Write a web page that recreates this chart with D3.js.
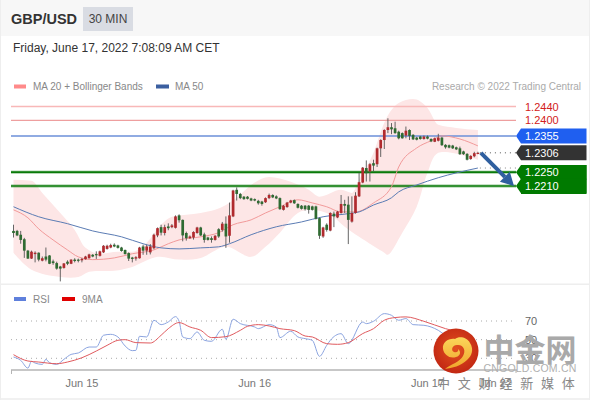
<!DOCTYPE html>
<html><head><meta charset="utf-8">
<script src="https://cdn.jsdelivr.net/npm/d3@7/dist/d3.min.js"></script>
<style>html,body{margin:0;padding:0;background:#fff}svg{display:block;font-family:"Liberation Sans",Arial,sans-serif}</style>
</head><body><svg id="c" width="590" height="400"></svg>
<script>
const opens=[1.2080,1.2080,1.2069,1.2056,1.2023,1.2000,1.2013,1.2017,1.1994,1.2006,1.2009,1.1992,1.1987,1.1977,1.1973,1.1991,1.1985,1.1997,1.1997,1.1995,1.1998,1.2001,1.2011,1.2013,1.2008,1.2018,1.2028,1.2032,1.2040,1.2038,1.2032,1.2025,1.2016,1.2003,1.2000,1.2001,1.2035,1.2023,1.2018,1.2030,1.2067,1.2091,1.2074,1.2093,1.2091,1.2089,1.2125,1.2112,1.2074,1.2059,1.2061,1.2074,1.2090,1.2070,1.2061,1.2059,1.2054,1.2085,1.2083,1.2101,1.2066,1.2122,1.2199,1.2187,1.2179,1.2179,1.2174,1.2172,1.2167,1.2165,1.2163,1.2175,1.2184,1.2180,1.2175,1.2141,1.2149,1.2162,1.2169,1.2158,1.2153,1.2153,1.2153,1.2151,1.2151,1.2117,1.2064,1.2098,1.2081,1.2130,1.2119,1.2132,1.2158,1.2156,1.2107,1.2132,1.2180,1.2220,1.2262,1.2252,1.2276,1.2273,1.2319,1.2343,1.2372,1.2380,1.2377,1.2367,1.2363,1.2356,1.2372,1.2358,1.2350,1.2353,1.2346,1.2353,1.2346,1.2338,1.2341,1.2350,1.2329,1.2328,1.2327,1.2322,1.2319,1.2310,1.2303,1.2288,1.2296,1.2303];
const closes=[1.2074,1.2067,1.2054,1.2023,1.2000,1.2020,1.2017,1.1997,1.2001,1.1997,1.1985,1.1987,1.1971,1.1971,1.1986,1.1985,1.1997,1.1993,1.1994,1.1999,1.2006,1.2012,1.2006,1.2010,1.2021,1.2037,1.2037,1.2039,1.2035,1.2031,1.2022,1.2013,1.2000,1.1999,1.2004,1.2032,1.2023,1.2035,1.2035,1.2069,1.2088,1.2075,1.2091,1.2088,1.2096,1.2122,1.2111,1.2067,1.2059,1.2064,1.2077,1.2090,1.2067,1.2054,1.2054,1.2054,1.2066,1.2064,1.2101,1.2064,1.2125,1.2197,1.2187,1.2175,1.2172,1.2173,1.2168,1.2168,1.2160,1.2158,1.2175,1.2184,1.2177,1.2174,1.2143,1.2153,1.2162,1.2168,1.2160,1.2147,1.2144,1.2143,1.2141,1.2141,1.2115,1.2066,1.2090,1.2083,1.2132,1.2122,1.2136,1.2158,1.2153,1.2112,1.2132,1.2182,1.2221,1.2263,1.2247,1.2273,1.2269,1.2319,1.2343,1.2372,1.2380,1.2374,1.2363,1.2348,1.2348,1.2370,1.2355,1.2345,1.2344,1.2346,1.2353,1.2347,1.2339,1.2348,1.2350,1.2328,1.2322,1.2321,1.2319,1.2316,1.2302,1.2302,1.2286,1.2297,1.2305,1.2306];
const highs=[1.2098,1.2083,1.2080,1.2060,1.2025,1.2023,1.2021,1.2018,1.2006,1.2032,1.2010,1.1997,1.1991,1.1979,1.1987,1.1995,1.1998,1.2001,1.2000,1.2002,1.2008,1.2014,1.2013,1.2021,1.2023,1.2039,1.2040,1.2043,1.2044,1.2040,1.2034,1.2026,1.2018,1.2005,1.2007,1.2034,1.2040,1.2040,1.2042,1.2072,1.2090,1.2098,1.2098,1.2102,1.2100,1.2125,1.2128,1.2113,1.2078,1.2067,1.2079,1.2092,1.2092,1.2075,1.2063,1.2064,1.2068,1.2088,1.2106,1.2122,1.2162,1.2199,1.2206,1.2190,1.2181,1.2181,1.2176,1.2174,1.2170,1.2167,1.2177,1.2188,1.2186,1.2183,1.2177,1.2155,1.2164,1.2170,1.2171,1.2160,1.2155,1.2155,1.2155,1.2153,1.2153,1.2119,1.2092,1.2102,1.2134,1.2136,1.2138,1.2184,1.2170,1.2180,1.2180,1.2192,1.2248,1.2265,1.2284,1.2276,1.2286,1.2321,1.2345,1.2374,1.2406,1.2392,1.2396,1.2370,1.2365,1.2382,1.2374,1.2360,1.2352,1.2355,1.2356,1.2356,1.2348,1.2350,1.2361,1.2352,1.2331,1.2330,1.2329,1.2324,1.2324,1.2312,1.2305,1.2299,1.2309,1.2309];
const lows=[1.2061,1.2065,1.2043,1.2002,1.1999,1.1999,1.1989,1.1992,1.1992,1.1992,1.1984,1.1982,1.1968,1.1934,1.1971,1.1981,1.1984,1.1989,1.1989,1.1989,1.1997,1.2000,1.2004,1.1999,1.2006,1.2016,1.2026,1.2030,1.2033,1.2029,1.2020,1.2012,1.1993,1.1989,1.1994,1.2000,1.2011,1.2011,1.2012,1.2027,1.2062,1.2067,1.2067,1.2082,1.2088,1.2087,1.2104,1.2050,1.2052,1.2057,1.2055,1.2072,1.2065,1.2046,1.2052,1.2046,1.2052,1.2060,1.2078,1.2031,1.2046,1.2120,1.2168,1.2172,1.2170,1.2171,1.2166,1.2166,1.2156,1.2153,1.2161,1.2172,1.2175,1.2172,1.2141,1.2139,1.2147,1.2160,1.2158,1.2145,1.2142,1.2139,1.2130,1.2139,1.2113,1.2057,1.2060,1.2078,1.2079,1.2091,1.2117,1.2130,1.2132,1.2042,1.2104,1.2130,1.2178,1.2218,1.2223,1.2223,1.2252,1.2265,1.2294,1.2317,1.2363,1.2360,1.2361,1.2345,1.2347,1.2348,1.2343,1.2343,1.2342,1.2344,1.2344,1.2345,1.2337,1.2337,1.2339,1.2326,1.2318,1.2319,1.2317,1.2314,1.2300,1.2300,1.2284,1.2286,1.2293,1.2302];

const ma20Idx=[0,4,7,11,15,18,22,28,33,39,43,46,52,57,61,66,70,74,79,83,87,91,95,100,105,107,112,116,119,124,129];
const ma20=[1.2141,1.2118,1.2086,1.2054,1.2025,1.2005,1.1997,1.2002,1.2014,1.2025,1.2043,1.2054,1.2063,1.2075,1.2098,1.2112,1.2132,1.2150,1.2170,1.2161,1.2150,1.2135,1.2135,1.2161,1.2208,1.2265,1.2320,1.2341,1.2355,1.2346,1.2326];
const ma50Idx=[0,7,15,22,30,36,41,46,52,57,60,66,73,80,86,93,96,100,105,107,112,118,123,129];
const ma50=[1.2150,1.2121,1.2101,1.2080,1.2063,1.2043,1.2031,1.2028,1.2031,1.2034,1.2043,1.2069,1.2092,1.2106,1.2121,1.2130,1.2135,1.2155,1.2176,1.2193,1.2213,1.2234,1.2248,1.2262];
const upperIdx=[0,5,8,13,17,20,24,29,33,37,41,44,52,56,62,66,71,77,82,85,91,94,96,100,103,107,111,115,118,123,129];
const upper=[1.2228,1.2225,1.2190,1.2132,1.2083,1.2031,1.2014,1.2020,1.2020,1.2046,1.2098,1.2121,1.2132,1.2141,1.2176,1.2213,1.2236,1.2222,1.2199,1.2179,1.2199,1.2190,1.2228,1.2306,1.2393,1.2450,1.2462,1.2436,1.2387,1.2378,1.2372];
const lowerIdx=[0,5,13,18,21,28,33,40,46,52,59,66,70,74,79,83,88,92,96,103,104,108,112,115,118,129];
const lower=[1.2017,1.1968,1.1947,1.1947,1.1962,1.1965,1.1976,1.2005,1.1997,1.2002,1.2034,1.2005,1.2034,1.2075,1.2132,1.2141,1.2127,1.2092,1.2063,1.2017,1.2011,1.2075,1.2150,1.2248,1.2306,1.2286];

const rsiIdx=[0,2,4,5,6,8,9,10,12,14,16,18,21,23,25,27,29,31,33,34,35,37,39,41,43,45,46,47,49,51,53,55,58,59,61,63,67,68,71,73,74,77,79,81,83,85,87,88,91,93,97,98,100,103,105,107,109,111,114,118,120,124];
const rsi=[31.4,27.8,19.5,26.7,24.9,23.5,28.9,25.3,23.5,28.9,34.2,35.7,42.1,42.1,54.7,55.7,52.9,43.2,38.2,38.5,53.6,52.9,70.8,66.1,69,74.7,69.7,52.9,51.1,58.2,49.3,48.2,61.1,50.4,71.9,67.2,63.6,61.8,66.1,63.6,52.2,59,52.9,51.1,49.3,32.1,43.9,49.3,56.4,45.7,68.9,67.2,69.7,77.9,76.1,70.8,72.6,66.1,65.4,60,54.7,50];
const maRsiIdx=[0,4,7,12,15,19,23,26,29,31,34,38,41,43,46,49,52,55,59,63,65,68,71,74,78,81,83,87,90,93,97,100,103,106,109,114,120,125];
const maRsi=[33.9,27.1,26,24.2,26,30.6,37.8,43.9,49.3,50,46.8,46.4,54.7,61.8,68.3,63.6,60,52.2,53.2,60,64.3,66.1,64.7,61.8,59.7,53.9,52.9,45.7,45,46.8,56.5,61.8,70.8,73.7,74.4,69.7,61.8,57];

const topRefs=[1.2440,1.2400];
const blueRef=1.2355, lastPrice=1.2306, maEnd=1.2262;
const greenRefs=[1.2250,1.2210];
const rsiLevels=[70,50,30];
const dayIdx=[19,67,115];
const dayLabels=["Jun 15","Jun 16","Jun 17"];
const extraLabel="Jun 22";
const wmChars=["中","文","财","经","新","媒","体"];

const svg=d3.select("#c");
const x=d3.scaleLinear().domain([0,129]).range([13.5,477.9]);
const y=d3.scaleLinear().domain([1.2440,1.2210]).range([106.5,186]);
const r=d3.scaleLinear().domain([70,30]).range([321,358.3]);
const fmt=d3.format(".4f");
const T=(s,px,py,o={})=>svg.append("text").text(s).attr("x",px).attr("y",py)
  .attr("font-size",o.size||10).attr("fill",o.fill||"#888").attr("font-weight",o.weight||null)
  .attr("text-anchor",o.anchor||"start").attr("dominant-baseline","central").attr("font-family",o.family||null);

// frame
svg.append("rect").attr("width",590).attr("height",36).attr("fill","#f7f7f7");
svg.append("rect").attr("y",398).attr("width",590).attr("height",2).attr("fill","#f1f1f1");
svg.append("rect").attr("y",283.5).attr("width",590).attr("height",1.5).attr("fill","#eeeeee");
svg.append("rect").attr("width",1).attr("height",400).attr("fill","#eeeeee");
svg.append("rect").attr("x",589).attr("width",1).attr("height",400).attr("fill","#eeeeee");

// header
T("GBP/USD",11,19,{size:14.5,weight:"bold",fill:"#333"});
svg.append("rect").attr("x",83).attr("y",7).attr("width",50).attr("height",24).attr("fill","#d9dce3");
T("30 MIN",108,19,{size:12,fill:"#444",anchor:"middle"});
T("Friday, June 17, 2022 7:08:09 AM CET",13,48,{size:12,fill:"#333"});

// legend
svg.append("rect").attr("x",14).attr("y",84.5).attr("width",12).attr("height",4).attr("fill","#ff8a8a");
T("MA 20 + Bollinger Bands",33,86.5,{fill:"#888"});
svg.append("rect").attr("x",156).attr("y",84.5).attr("width",13).attr("height",4).attr("fill","#3b5fa0");
T("MA 50",175,86.5,{fill:"#888"});
T("Research © 2022 Trading Central",581,86.5,{fill:"#aaa",anchor:"end"});

// Bollinger band: open upper edge, open lower edge, straight ends
const bandLine=d3.line().curve(d3.curveMonotoneX);
const upPts=upper.map((v,i)=>[x(upperIdx[i]),y(v)]);
const loPts=lower.map((v,i)=>[-x(lowerIdx[i]),y(v)]).reverse();
const upPath=bandLine(upPts);
const loGroup=svg.append("g");
svg.append("path").attr("d",upPath+"L"+x(lowerIdx[lowerIdx.length-1])+","+y(lower[lower.length-1])
  +d3.line().curve(d3.curveCatmullRom)(loPts.map(p=>[-p[0],p[1]])).replace(/^M/,"L")+"Z").attr("fill","#fde6e6");

// horizontal levels
const x0=11,x1=516;
svg.selectAll(".t").data(topRefs).join("line").attr("x1",x0).attr("x2",x1).attr("y1",d=>y(d)).attr("y2",d=>y(d)).attr("stroke",(d,i)=>i?"#ee9f9f":"#f8b8b8").attr("stroke-width",1.3);
svg.append("line").attr("x1",x0).attr("x2",x1).attr("y1",y(blueRef)).attr("y2",y(blueRef)).attr("stroke","#6b8fd8").attr("stroke-width",1.5);
svg.selectAll(".gh").data(greenRefs).join("line").attr("x1",x0).attr("x2",x1).attr("y1",d=>y(d)).attr("y2",d=>y(d)).attr("stroke","#0a7a0a").attr("stroke-opacity",.3).attr("stroke-width",3.5);
svg.selectAll(".g").data(greenRefs).join("line").attr("x1",x0).attr("x2",x1).attr("y1",d=>y(d)).attr("y2",d=>y(d)).attr("stroke","#0a7a0a").attr("stroke-width",1.6);

// MAs
const mk=(idx,vals,sc)=>d3.line().curve(d3.curveMonotoneX)(vals.map((v,i)=>[x(idx[i]),sc(v)]));
svg.append("path").attr("d",mk(ma20Idx,ma20,y)).attr("fill","none").attr("stroke","#f29a9a").attr("stroke-width",1);
svg.append("path").attr("d",mk(ma50Idx,ma50,y)).attr("fill","none").attr("stroke","#5b7cb4").attr("stroke-width",1);

// candles
const idxs=d3.range(opens.length);
svg.append("g").selectAll("line").data(idxs).join("line")
  .attr("x1",i=>x(i)).attr("x2",i=>x(i)).attr("y1",i=>y(highs[i])).attr("y2",i=>y(lows[i]))
  .attr("stroke","#555").attr("stroke-width",.9);
svg.append("g").selectAll("rect").data(idxs).join("rect")
  .attr("x",i=>x(i)-1.35).attr("width",2.7)
  .attr("y",i=>y(Math.max(opens[i],closes[i])))
  .attr("height",i=>Math.max(1.2,Math.abs(y(opens[i])-y(closes[i]))))
  .attr("fill",i=>closes[i]>=opens[i]?"#b02a2e":"#2f6b32");

// dotted leaders
[[lastPrice,"#555"],[maEnd,"#888"]].forEach(([p,c])=>svg.append("line").attr("x1",x(129)+2).attr("x2",x1)
  .attr("y1",y(p)).attr("y2",y(p)).attr("stroke",c).attr("stroke-width",1).attr("stroke-dasharray","1 4"));

// arrow
const ax0=x(129)+3,ay0=y(lastPrice),ax1=x1-2,ay1=y(greenRefs[1]);
const ang=Math.atan2(ay1-ay0,ax1-ax0);
const hx=ax1-13*Math.cos(ang),hy=ay1-13*Math.sin(ang);
svg.append("line").attr("x1",ax0).attr("y1",ay0).attr("x2",hx).attr("y2",hy).attr("stroke","#2f5f9f").attr("stroke-width",4);
const nx=-Math.sin(ang),ny=Math.cos(ang);
svg.append("path").attr("d",d3.line()([[ax1,ay1],[hx+nx*7,hy+ny*7],[hx-nx*7,hy-ny*7]])+"Z").attr("fill","#2f5f9f");

// price labels
topRefs.forEach(p=>T(fmt(p),525,y(p),{size:11,fill:"#d22020"}));
const tag=(p,h,c)=>{const py=y(p);
  svg.append("path").attr("d",`M516,${py}L521,${py-h/2}H586.5V${py+h/2}H521Z`).attr("fill",c);
  T(fmt(p),525,py,{size:11,fill:"#fff"});};
tag(blueRef,15,"#1f5ff0");
tag(lastPrice,15,"#333333");
svg.append("rect").attr("x",521).attr("y",165).attr("width",65.5).attr("height",29).attr("fill","#007a00");
greenRefs.forEach(p=>tag(p,14.5,"#007a00"));

// RSI panel
svg.append("rect").attr("x",14).attr("y",297).attr("width",12).attr("height",4).attr("fill","#5f80dc");
T("RSI",33,299.5,{fill:"#888"});
svg.append("rect").attr("x",62).attr("y",297).attr("width",13).attr("height",4).attr("fill","#e00000");
T("9MA",82,299.5,{fill:"#888"});
svg.selectAll(".rl").data(rsiLevels).join("line").attr("x1",x0).attr("x2",x1).attr("y1",d=>r(d)).attr("y2",d=>r(d))
  .attr("stroke","#aaa").attr("stroke-width",1).attr("stroke-dasharray","1 4");
rsiLevels.forEach(l=>T(l,525,r(l),{size:11,fill:"#666"}));
svg.append("path").attr("d",mk(rsiIdx,rsi,r)).attr("fill","none").attr("stroke","#8ba4e0").attr("stroke-width",1);
svg.append("path").attr("d",mk(maRsiIdx,maRsi,r)).attr("fill","none").attr("stroke","#e05a5e").attr("stroke-width",1);

// time axis
const axisG=svg.append("g").attr("transform","translate(0,370)");
axisG.append("line").attr("x1",x0).attr("x2",x1+1).attr("stroke","#b5b5b5").attr("stroke-width",1.6);
[x0+.5,x1].forEach(px=>axisG.append("line").attr("x1",px).attr("x2",px).attr("y1",0).attr("y2",px<50?4:3).attr("stroke","#b5b5b5"));
dayLabels.forEach((l,i)=>T(l,x(dayIdx[i]),383,{size:11,fill:"#777",anchor:"middle"}));
T(extraLabel,495.5,383,{size:11,fill:"#777",anchor:"middle"});

// watermark
const defs=svg.append("defs");
const g=defs.append("radialGradient").attr("id","lg").attr("cx","50%").attr("cy","45%").attr("r","60%");
g.append("stop").attr("offset","0%").attr("stop-color","#e2501f");
g.append("stop").attr("offset","100%").attr("stop-color","#bf2412");
const gy=defs.append("linearGradient").attr("id","ly").attr("x1","0").attr("y1","0").attr("x2","0").attr("y2","1");
gy.append("stop").attr("offset","0%").attr("stop-color","#fbd65a");
gy.append("stop").attr("offset","100%").attr("stop-color","#f0a52c");
const wm=svg.append("g");
wm.append("circle").attr("cx",456).attr("cy",351).attr("r",22.5).attr("fill","url(#lg)");
wm.append("path").attr("d","M443,349C442,342 449,338 455,339C459,336 467,337 470,343C474,349 472,356 467,360C461,366 452,368 445,369C451,364 460,362 463,356C466,351 464,345 458,345C453,344 450,350 454,352C457,353 459,351 458,349C461,351 461,356 456,357C450,359 444,355 443,349Z").attr("fill","url(#ly)");
["中","金","网"].forEach((c,i)=>wm.append("text").text(c).attr("x",499+i*31).attr("y",347).attr("text-anchor","middle").attr("dominant-baseline","central")
  .attr("font-size",31).attr("font-weight","bold").attr("fill","#a9a9a9").attr("font-family","'Noto Sans CJK SC'"));
wm.append("text").text("CNGOLD.COM.CN").attr("x",530).attr("y",368).attr("text-anchor","middle").attr("dominant-baseline","central").attr("font-size",10.5).attr("letter-spacing",.2).attr("fill","#b0b0b0");
wmChars.forEach((c,i)=>wm.append("text").text(c).attr("x",443.5+i*20.8).attr("y",382).attr("text-anchor","middle").attr("dominant-baseline","central")
  .attr("font-size",13).attr("fill","#888").attr("font-family","'Noto Sans CJK SC'"));
</script></body></html>
